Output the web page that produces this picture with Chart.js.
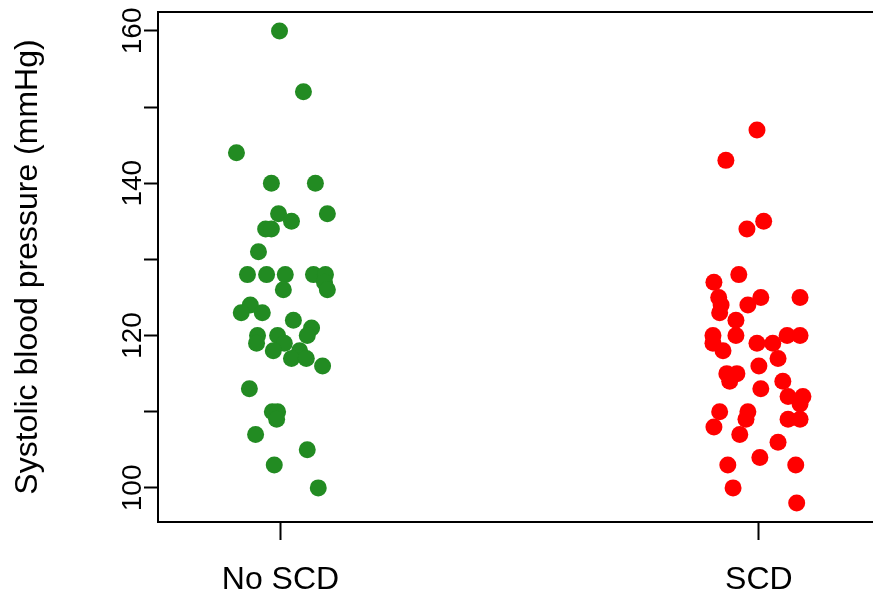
<!DOCTYPE html>
<html>
<head>
<meta charset="utf-8">
<script src="https://cdn.jsdelivr.net/npm/chart.js@4/dist/chart.umd.min.js"></script>
<style>
  html, body { margin: 0; padding: 0; background: #fff; }
  #wrap { width: 873px; height: 600px; position: relative; }
</style>
</head>
<body>
<div id="wrap"><canvas id="c"></canvas></div>
<script>
// categories and their positions on the x axis
const groups = ["No SCD", "SCD"];
const groupPos = [1, 2];
const yTicks = [100, 110, 120, 130, 140, 150, 160];
const yLabels = [100, 120, 140, 160];

// systolic blood pressure, No SCD group, with the jitter offset of each point
const noScdBp = [160, 152, 144, 140, 140, 136, 136, 135, 134, 134, 131, 128, 128, 128, 128, 128,
    127, 126, 126, 124, 123, 123, 122, 121, 120, 120, 120, 119, 119, 118, 118, 117, 117, 116,
    113, 110, 110, 109, 107, 105, 103, 100];
const noScdJit = [-0.002, 0.048, -0.092, -0.019, 0.073, -0.004, 0.098, 0.023, -0.031, -0.019, -0.046,
    -0.069, -0.029, 0.010, 0.069, 0.094, 0.092, 0.006, 0.098, -0.063, -0.082, -0.038, 0.027, 0.065,
    -0.048, -0.006, 0.056, -0.050, 0.008, -0.015, 0.040, 0.023, 0.054, 0.088, -0.065, -0.017,
    -0.006, -0.008, -0.052, 0.056, -0.013, 0.079];

// SCD group
const scdBp = [147, 143, 135, 134, 128, 127, 125, 125, 125, 124, 124, 123, 122, 120, 120, 120, 120,
    119, 119, 119, 118, 117, 116, 115, 115, 114, 114, 113, 112, 112, 111, 110, 110, 109, 109, 109,
    108, 107, 106, 104, 103, 103, 100, 98];
const scdJit = [-0.004, -0.069, 0.010, -0.025, -0.042, -0.094, -0.084, 0.004, 0.086, -0.079, -0.023,
    -0.082, -0.048, -0.096, -0.048, 0.059, 0.086, -0.096, -0.004, 0.029, -0.075, 0.040, 0.000,
    -0.067, -0.046, -0.061, 0.050, 0.004, 0.061, 0.092, 0.086, -0.082, -0.023, -0.027, 0.061,
    0.086, -0.094, -0.040, 0.040, 0.002, -0.065, 0.077, -0.054, 0.079];

const FONT = "'Liberation Sans', Arial, Helvetica, sans-serif";

function toPoints(pos, vals, jit) {
    return vals.map((v, i) => ({ x: pos + jit[i], y: v }));
}

// top edge of the box plus rotated y labels and title, like base R
const rBox = {
    id: "rBox",
    afterDraw(chart) {
        const { ctx, chartArea: a, scales } = chart;
        ctx.save();
        ctx.strokeStyle = "#000";
        ctx.lineWidth = 2;
        ctx.beginPath();
        ctx.moveTo(a.left - 1, a.top);
        ctx.lineTo(a.right, a.top);
        ctx.stroke();

        ctx.fillStyle = "#000";
        ctx.textAlign = "center";
        ctx.textBaseline = "middle";
        ctx.font = "28px " + FONT;
        yLabels.forEach(v => {
            const y = scales.y.getPixelForValue(v);
            ctx.save();
            ctx.translate(133, y);
            ctx.rotate(-Math.PI / 2);
            ctx.fillText(String(v), 0, 0);
            ctx.restore();
        });
        ctx.font = "32px " + FONT;
        ctx.save();
        ctx.translate(28, (a.top + a.bottom) / 2);
        ctx.rotate(-Math.PI / 2);
        ctx.fillText("Systolic blood pressure (mmHg)", 0, 0);
        ctx.restore();
        ctx.restore();
    },
};

new Chart(document.getElementById("c"), {
    type: "scatter",
    data: {
        datasets: [
            { label: groups[0], data: toPoints(groupPos[0], noScdBp, noScdJit), backgroundColor: "#228B22" },
            { label: groups[1], data: toPoints(groupPos[1], scdBp, scdJit), backgroundColor: "#FF0000" },
        ],
    },
    options: {
        responsive: true,
        maintainAspectRatio: false,
        animation: false,
        layout: { autoPadding: false, padding: { top: 12, right: 0, left: 0, bottom: 0 } },
        elements: { point: { radius: 8.5, borderWidth: 0, hoverRadius: 8.5 } },
        plugins: { legend: { display: false }, tooltip: { enabled: false } },
        scales: {
            x: {
                type: "linear",
                min: 0.744,
                max: 2.2385,
                afterBuildTicks: (s) => { s.ticks = groupPos.map(v => ({ value: v })); },
                afterFit: (s) => { s.height = 78; },
                grid: { drawOnChartArea: false, drawTicks: true, tickLength: 18, tickColor: "#000", tickWidth: 2 },
                border: { display: true, color: "#000", width: 2 },
                ticks: {
                    padding: 21,
                    color: "#000",
                    font: { family: FONT, size: 32 },
                    maxRotation: 0,
                    callback: (v) => groups[groupPos.indexOf(v)] || "",
                },
            },
            y: {
                min: 95.52,
                max: 162.48,
                afterBuildTicks: (s) => { s.ticks = yTicks.map(v => ({ value: v })); },
                afterFit: (s) => { s.width = 158; },
                grid: { drawOnChartArea: false, drawTicks: true, tickLength: 14, tickColor: "#000", tickWidth: 2 },
                border: { display: true, color: "#000", width: 2 },
                ticks: { display: true, callback: () => "", padding: 0 },
            },
        },
    },
    plugins: [rBox],
});
</script>
</body>
</html>
